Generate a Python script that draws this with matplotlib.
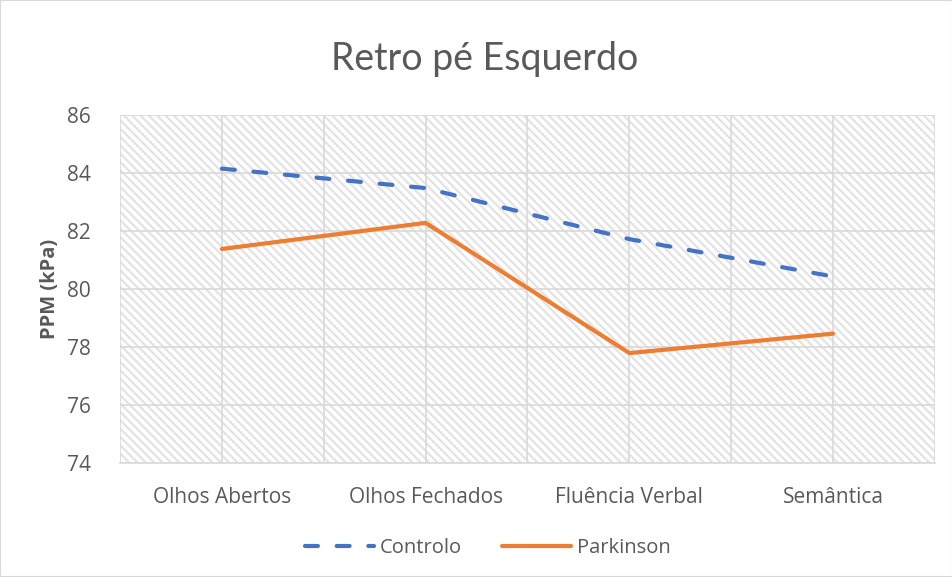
"""
Retro pé Esquerdo: PPM per task for control and Parkinson groups.
"""

import matplotlib.pyplot as plt
from matplotlib.patches import Rectangle

plt.rcParams["font.family"] = ["Open Sans", "DejaVu Sans"]
plt.rcParams["hatch.linewidth"] = 1.6
plt.rcParams["hatch.color"] = "#e3e3e3"

TEXT_GREY = "#595959"
GRID_GREY = "#d9d9d9"

categories = ["Olhos Abertos", "Olhos Fechados", "Fluência Verbal", "Semântica"]
controlo = [84.15, 83.48, 81.72, 80.43]
parkinson = [81.38, 82.28, 77.79, 78.46]
y_ticks = [74, 76, 78, 80, 82, 84, 86]

fig = plt.figure(figsize=(9.53, 5.77), dpi=100)
ax = fig.add_axes([0.126, 0.1976, 0.855, 0.6031])

# hatched plot area like the Excel pattern fill
ax.add_patch(
    Rectangle(
        (0, 0), 1, 1,
        transform=ax.transAxes,
        facecolor="white",
        hatch="\\\\\\\\",
        edgecolor="#e3e3e3",
        linewidth=0,
        zorder=0,
    )
)

x = list(range(len(categories)))
ax.plot(
    x, controlo,
    color="#4472c4",
    linewidth=3,
    linestyle=(0, (3.1, 4.5)),
    dash_capstyle="round",
    label="Controlo",
    zorder=3,
)
ax.plot(
    x, parkinson,
    color="#ed7d31",
    linewidth=3,
    solid_capstyle="round",
    label="Parkinson",
    zorder=3,
)

ax.set_xlim(-0.5, len(categories) - 0.5)
ax.set_ylim(74, 86)
ax.set_yticks(y_ticks)
ax.set_xticks(x)
ax.set_xticklabels(categories)
ax.set_xticks([i - 0.5 for i in range(len(categories) + 1)], minor=True)

ax.grid(axis="y", color=GRID_GREY, linewidth=1.2, zorder=1)
ax.grid(axis="x", which="both", color=GRID_GREY, linewidth=1.2, zorder=1)
ax.set_axisbelow(True)

for side in ["top", "right", "left"]:
    ax.spines[side].set_visible(False)
ax.spines["bottom"].set_color(GRID_GREY)
ax.spines["bottom"].set_linewidth(1.2)

ax.tick_params(axis="both", which="both", length=0, labelsize=15,
               labelcolor=TEXT_GREY)
ax.tick_params(axis="x", pad=17)
ax.tick_params(axis="y", pad=21)

ax.set_ylabel("PPM (kPa)", fontsize=14.5, fontweight="bold", color=TEXT_GREY,
              labelpad=5)
fig.text(0.509, 0.897, "Retro pé Esquerdo", fontsize=27, color=TEXT_GREY,
         ha="center", va="center", family=["Lato", "DejaVu Sans"])

ax.legend(
    loc="center",
    bbox_to_anchor=(0.512, 0.05),
    bbox_transform=fig.transFigure,
    ncol=2,
    frameon=False,
    fontsize=14.5,
    labelcolor=TEXT_GREY,
    handlelength=3.4,
    handletextpad=0.3,
    columnspacing=2.0,
)

# chart area border
fig.patches.append(
    Rectangle((0, 0), 1, 1, transform=fig.transFigure, fill=False,
              edgecolor=GRID_GREY, linewidth=1.5)
)

fig.savefig("out.png", dpi=100)
